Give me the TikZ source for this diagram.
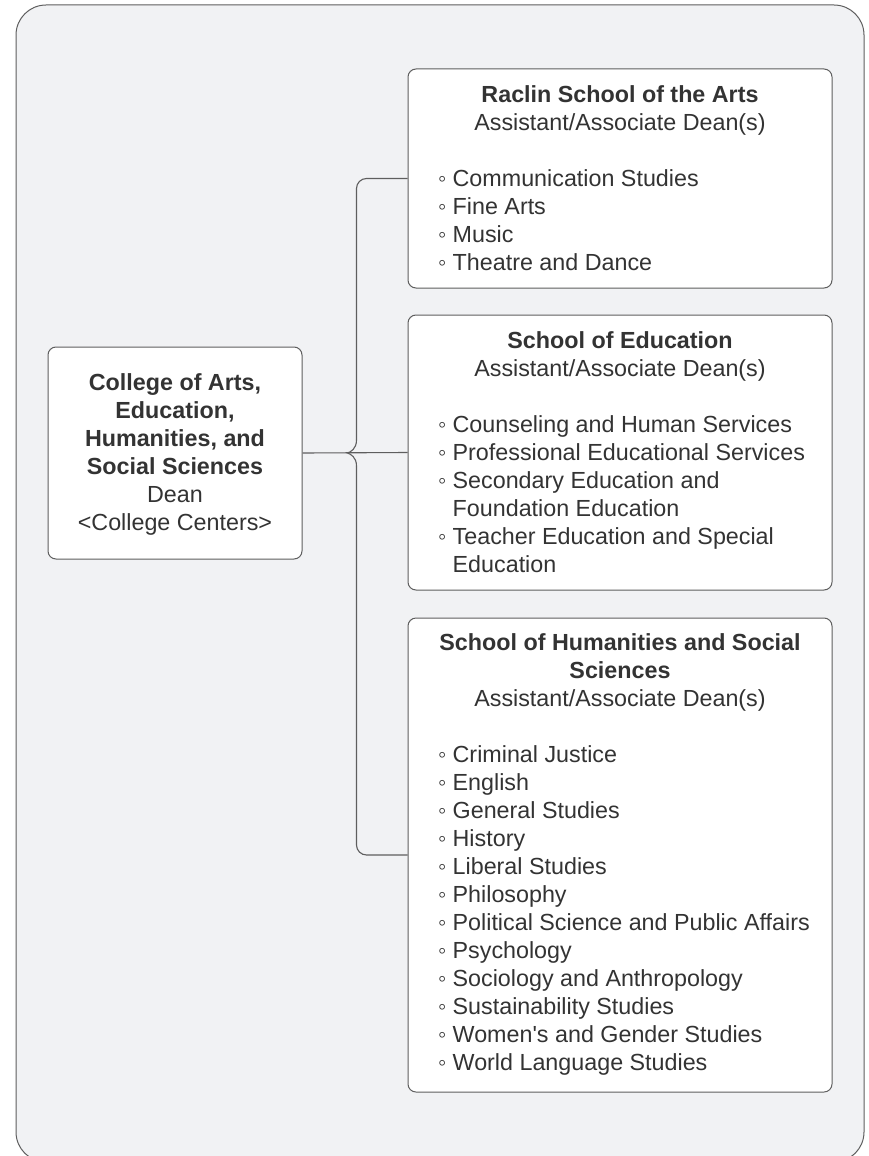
\documentclass[tikz,border=0pt]{standalone}
\usepackage{fontspec}
\setmainfont{Liberation Sans}
\newfontfamily\plainquote{Liberation Sans}
\usetikzlibrary{calc}
\definecolor{bg}{HTML}{F1F2F4}
\definecolor{ink}{HTML}{333333}
\definecolor{edgec}{HTML}{5E5E5E}
\newcommand\bul{\makebox[14.5pt][l]{◦}}
\newcommand\cont{\hspace*{14.5pt}}
\begin{document}
\begin{tikzpicture}[x=1pt,y=-1pt,
  box/.style={draw=edgec, fill=white, line width=1pt, rounded corners=8pt, inner sep=0pt},
  txt/.style={text=ink, inner sep=0pt, font=\fontsize{23.3}{28}\selectfont},
  conn/.style={draw=edgec, line width=1.1pt}]
\useasboundingbox (0,0) rectangle (869,1156);
\draw[draw=edgec, fill=bg, line width=1pt, rounded corners=30pt] (16,5) rectangle (864,1162);

\node[box, minimum width=254pt, minimum height=212pt] (dean) at (175,453) {};
\node[box, minimum width=424pt, minimum height=219pt] (raclin) at (620,178.5) {};
\node[box, minimum width=424pt, minimum height=275pt] (edu) at (620,452.5) {};
\node[box, minimum width=424pt, minimum height=474pt] (hum) at (620,855) {};

% anchor=base refers to the baseline of the last line
\node[txt, anchor=base, align=center] (deanT) at (175,530)
 {\textbf{College of Arts,}\\\textbf{Education,}\\\textbf{Humanities, and}\\\textbf{Social Sciences}\\Dean\\<College Centers>};

\node[txt, anchor=base, align=center] (raclinT) at (620,130)
 {\textbf{Raclin School of the Arts}\\Assistant/Associate Dean(s)};
\node[txt, anchor=base west, align=left] (raclinL) at (438,270)
 {\bul Communication Studies\\\bul Fine Arts\\\bul Music\\\bul Theatre and Dance};

\node[txt, anchor=base, align=center] (eduT) at (620,376)
 {\textbf{School of Education}\\Assistant/Associate Dean(s)};
\node[txt, anchor=base west, align=left] (eduL) at (438,572)
 {\bul Counseling and Human Services\\\bul Professional Educational Services\\\bul Secondary Education and\\\cont Foundation Education\\\bul Teacher Education and Special\\\cont Education};

\node[txt, anchor=base, align=center] (humT) at (620,706)
 {\textbf{School of Humanities and Social}\\\textbf{Sciences}\\Assistant/Associate Dean(s)};
\node[txt, anchor=base west, align=left] (humL) at (438,1070)
 {\bul Criminal Justice\\\bul English\\\bul General Studies\\\bul History\\\bul Liberal Studies\\\bul Philosophy\\\bul Political Science and Public Affairs\\\bul Psychology\\\bul Sociology and Anthropology\\\bul Sustainability Studies\\\bul Women{\plainquote '}s and Gender Studies\\\bul World Language Studies};

\coordinate (tip) at ($(dean.east)+(45,0)$);
\draw[conn] (dean.east) -- (edu.west);
\draw[conn, rounded corners=10pt] (raclin.west) -| ($(tip)+(9,-13)$);
\draw[conn, rounded corners=10pt] (hum.west) -| ($(tip)+(9,13)$);
\draw[conn] ($(tip)+(9,-13)$) .. controls ($(tip)+(9,-4)$) and ($(tip)+(3,-1)$) .. (tip)
  .. controls ($(tip)+(3,1)$) and ($(tip)+(9,4)$) .. ($(tip)+(9,13)$);
\end{tikzpicture}
\end{document}
